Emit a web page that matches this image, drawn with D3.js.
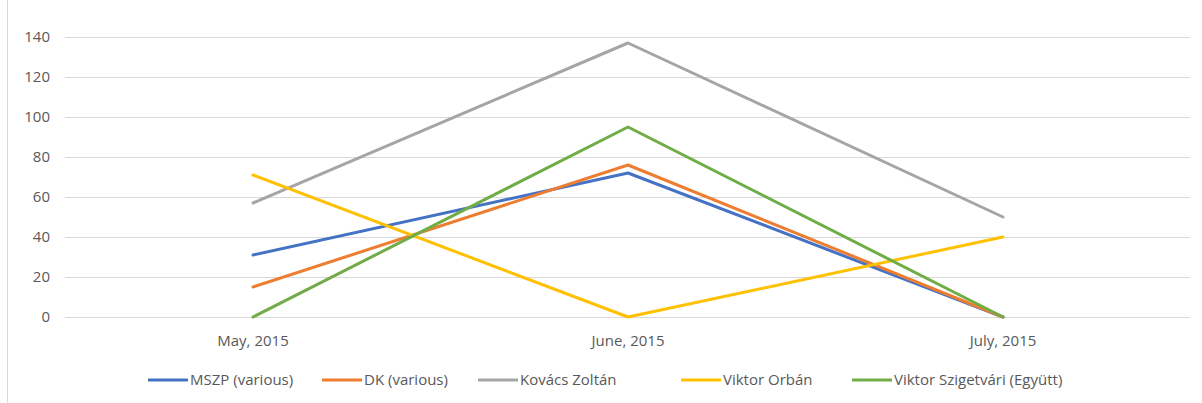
<!DOCTYPE html>
<html>
<head>
<meta charset="utf-8">
<script src="https://cdn.jsdelivr.net/npm/d3@7"></script>
<style>
  body { margin: 0; background: #fff; }
  text { font-family: "Open Sans", "Liberation Sans", sans-serif; fill: #595959; }
</style>
</head>
<body>
<svg id="chart" width="1202" height="403"></svg>
<script>
const months = ["May, 2015", "June, 2015", "July, 2015"];
const seriesNames = ["MSZP (various)", "DK (various)", "Kovács Zoltán", "Viktor Orbán", "Viktor Szigetvári (Együtt)"];
const mszp = [31, 72, 0];
const dk = [15, 76, 0];
const kovacs = [57, 137, 50];
const orban = [71, 0, 40];
const szigetvari = [0, 95, 0];
const yTicks = [0, 20, 40, 60, 80, 100, 120, 140];
const colors = ["#4472C4", "#ED7D31", "#A5A5A5", "#FFC000", "#70AD47"];

const series = [mszp, dk, kovacs, orban, szigetvari].map((values, i) => ({
  name: seriesNames[i],
  color: colors[i],
  values,
}));

const svg = d3.select("#chart");
const width = 1202;
const height = 403;

// chart border on the left
svg.append("line")
  .attr("x1", 7.5).attr("x2", 7.5)
  .attr("y1", 0).attr("y2", height)
  .attr("stroke", "#d9d9d9");

const x = d3.scaleBand().domain(months).range([65.5, 1190.5]);
const y = d3.scaleLinear().domain([0, 140]).range([317, 37]);

// gridlines
svg.append("g")
  .selectAll("line")
  .data(yTicks)
  .join("line")
  .attr("x1", 65)
  .attr("x2", 1190)
  .attr("y1", (d) => Math.round(y(d)) + 0.5)
  .attr("y2", (d) => Math.round(y(d)) + 0.5)
  .attr("stroke", "#d9d9d9")
  .attr("stroke-width", 1);

// y labels
svg.append("g")
  .selectAll("text")
  .data(yTicks)
  .join("text")
  .attr("x", 50)
  .attr("y", (d) => y(d))
  .attr("dy", "0.35em")
  .attr("text-anchor", "end")
  .style("font-size", "15px")
  .text((d) => d);

// x labels
svg.append("g")
  .selectAll("text")
  .data(months)
  .join("text")
  .attr("x", (d) => x(d) + x.bandwidth() / 2)
  .attr("y", 341)
  .attr("dy", "0.35em")
  .attr("text-anchor", "middle")
  .style("font-size", "15px")
  .text((d) => d);

const line = d3.line()
  .x((d, i) => x(months[i]) + x.bandwidth() / 2)
  .y((d) => y(d));

svg.append("g")
  .selectAll("path")
  .data(series)
  .join("path")
  .attr("fill", "none")
  .attr("stroke", (d) => d.color)
  .attr("stroke-width", 3)
  .attr("stroke-linejoin", "round")
  .attr("stroke-linecap", "round")
  .attr("d", (d) => line(d.values));

// legend
const legendX = [148, 322, 478, 681, 852];
const legend = svg.append("g")
  .selectAll("g")
  .data(series)
  .join("g")
  .attr("transform", (d, i) => `translate(${legendX[i]},380)`);

legend.append("line")
  .attr("x1", 0).attr("x2", 40)
  .attr("stroke", (d) => d.color)
  .attr("stroke-width", 3);

legend.append("text")
  .attr("x", 42)
  .attr("dy", "0.35em")
  .style("font-size", "15px")
  .text((d) => d.name);
</script>
</body>
</html>
